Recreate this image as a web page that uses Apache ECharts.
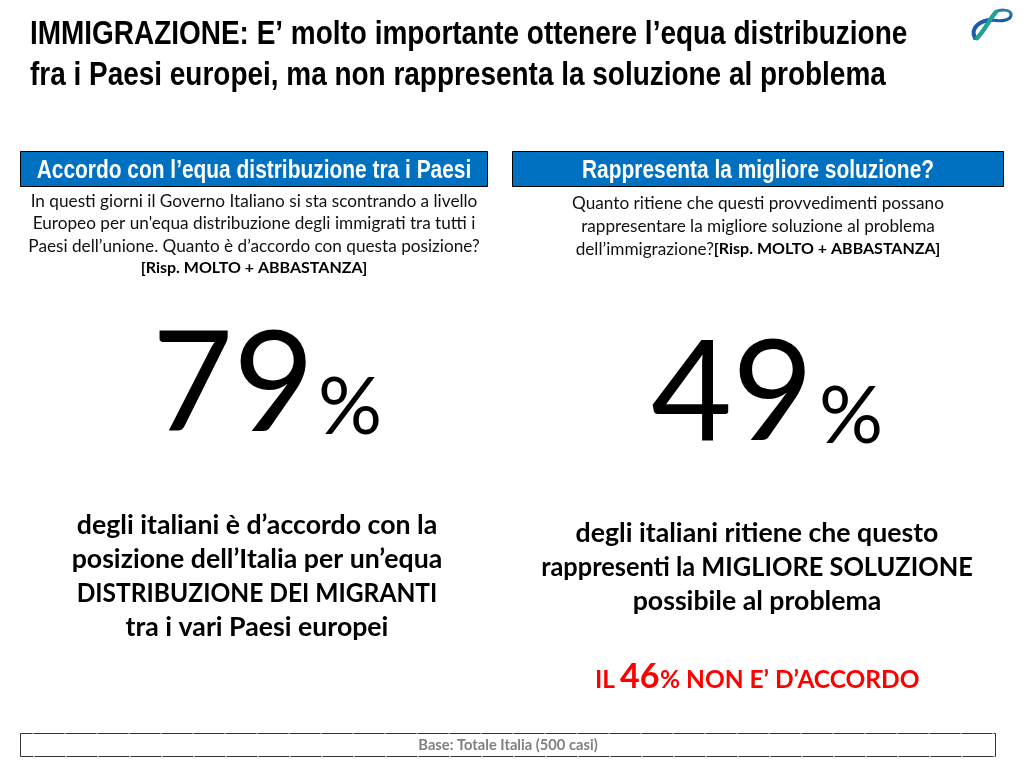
<!DOCTYPE html>
<html>
<head>
<meta charset="utf-8">
<script src="https://cdn.jsdelivr.net/npm/echarts@6/dist/echarts.min.js"></script>
<style>
html, body { margin: 0; padding: 0; background: #fff; }
#main { width: 1023px; height: 765px; }
</style>
</head>
<body>
<div id="main"></div>
<script>
var titleLines = ['IMMIGRAZIONE: E’ molto importante ottenere l’equa distribuzione', 'fra i Paesi europei, ma non rappresenta la soluzione al problema'];
var panelTitles = ['Accordo con l’equa distribuzione tra i Paesi', 'Rappresenta la migliore soluzione?'];
var questionLeft = ['In questi giorni il Governo Italiano si sta scontrando a livello', 'Europeo per un\'equa distribuzione degli immigrati tra tutti i', 'Paesi dell’unione. Quanto è d’accordo con questa posizione?'];
var questionRight = ['Quanto ritiene che questi provvedimenti possano', 'rappresentare la migliore soluzione al problema'];
var questionRightLast = 'dell’immigrazione?';
var answerNote = '[Risp. MOLTO + ABBASTANZA]';
var bigValues = [79, 49];
var disagreeValue = 46;
var commentLeft = ['degli italiani è d’accordo con la', 'posizione dell’Italia per un’equa', 'DISTRIBUZIONE DEI MIGRANTI', 'tra i vari Paesi europei'];
var commentRight = ['degli italiani ritiene che questo', 'rappresenti la MIGLIORE SOLUZIONE', 'possibile al problema'];
var baseNote = 'Base: Totale Italia (500 casi)';

var bodyFont = 'Lato, "Open Sans", sans-serif';
var narrowFont = '"Liberation Sans", Arial, sans-serif';
var blue = '#0070c0';

function label(str, x, y, size, weight, color, family, align, scaleX) {
    return {
        type: 'text',
        x: x,
        y: y,
        scaleX: scaleX || 1,
        style: {
            text: str,
            fontSize: size,
            fontWeight: weight,
            fontFamily: family || bodyFont,
            fill: color || '#000',
            align: align || 'center',
            verticalAlign: 'middle'
        }
    };
}

function panelHeader(x, w, str) {
    return [{
        type: 'rect',
        shape: { x: x, y: 151.5, width: w, height: 35 },
        style: { fill: blue, stroke: '#000', lineWidth: 1 }
    }, label(str, x + w / 2, 171, 25.5, 'bold', '#fff', narrowFont, 'center', 0.82)];
}

function bigNumber(value, x, y, px, py) {
    return [
        label(String(value), x, y, 140, 'normal', '#000', bodyFont, 'left'),
        label('%', px, py, 80, 'normal', '#000', bodyFont, 'left')
    ];
}

// nastro del logo, in alto a destra
function ribbon(x1, y1, cx1, cy1, cx2, cy2, x2, y2, width, color) {
    return {
        type: 'bezierCurve',
        shape: { x1: x1, y1: y1, cpx1: cx1, cpy1: cy1, cpx2: cx2, cpy2: cy2, x2: x2, y2: y2 },
        style: { fill: 'none', stroke: color, lineWidth: width, lineCap: 'round' }
    };
}

var elements = [];

titleLines.forEach(function (t, i) {
    elements.push(label(t, 30, 35 + i * 41, 34, 'bold', '#000', narrowFont, 'left', 0.822));
});

elements = elements.concat(panelHeader(20.5, 467, panelTitles[0]));
elements = elements.concat(panelHeader(512.5, 491, panelTitles[1]));

questionLeft.forEach(function (t, i) {
    elements.push(label(t, 254, 201 + i * 22.5, 17.2, 'normal', '#111'));
});
elements.push(label(answerNote, 254, 268, 16, 'bold', '#000'));

questionRight.forEach(function (t, i) {
    elements.push(label(t, 758, 203 + i * 23, 17.2, 'normal', '#111'));
});
elements.push({
    type: 'text',
    x: 758,
    y: 249,
    style: {
        text: '{a|' + questionRightLast + '}{b|' + answerNote + '}',
        align: 'center',
        verticalAlign: 'middle',
        rich: {
            a: { fontSize: 17.2, fontFamily: bodyFont, fill: '#111' },
            b: { fontSize: 16, fontFamily: bodyFont, fontWeight: 'bold', fill: '#000' }
        }
    }
});

elements = elements.concat(bigNumber(bigValues[0], 152, 386, 318, 408));
elements = elements.concat(bigNumber(bigValues[1], 651, 395, 819, 417));

commentLeft.forEach(function (t, i) {
    elements.push(label(t, 257, 525 + i * 34, 26.7, 'bold', '#000', bodyFont, 'center', t === t.toUpperCase() ? 0.92 : 1));
});
commentRight.forEach(function (t, i) {
    elements.push(label(t, 757, 533 + i * 34, 26.7, 'bold', '#000', bodyFont, 'center', i === 1 ? 0.95 : 1));
});

elements.push(label('IL', 595, 680, 24.5, 'bold', '#ff0000', bodyFont, 'left'));
elements.push(label(String(disagreeValue), 620, 677, 34, 'bold', '#ff0000', bodyFont, 'left'));
elements.push(label('% NON E’ D’ACCORDO', 660, 680, 24.5, 'bold', '#ff0000', bodyFont, 'left'));

// riquadro base: lati solidi, sopra e sotto tratteggio quasi continuo
function baseLine(x1, y1, x2, y2, dash, offset) {
    return {
        type: 'line',
        shape: { x1: x1, y1: y1, x2: x2, y2: y2 },
        style: { stroke: '#333', lineWidth: 1, lineDash: dash, lineDashOffset: offset || 0 }
    };
}
elements.push(baseLine(20.5, 733.5, 20.5, 756.5));
elements.push(baseLine(995.5, 733.5, 995.5, 756.5));
elements.push(baseLine(20.5, 733.5, 995.5, 733.5, [31, 1], 19));
elements.push(baseLine(20.5, 756.5, 995.5, 756.5, [31, 1], 18));
elements.push(label(baseNote, 508, 745, 14.7, 'bold', '#7f7f7f'));

elements.push(ribbon(975, 38, 970, 28, 980, 20, 992, 20, 4, '#1a5ca8'));
elements.push(ribbon(992, 20, 1002, 22, 1012, 20, 1011, 14, 3, '#1a5ca8'));
elements.push(ribbon(1011, 14, 1010, 9, 999, 9, 995, 13, 3, '#2a7ab0'));
elements.push(ribbon(996, 12, 990, 18, 984, 32, 977, 38, 4.5, '#22a098'));

var chart = echarts.init(document.getElementById('main'));
chart.setOption({
    backgroundColor: '#fff',
    animation: false,
    graphic: { elements: elements }
});
</script>
</body>
</html>
